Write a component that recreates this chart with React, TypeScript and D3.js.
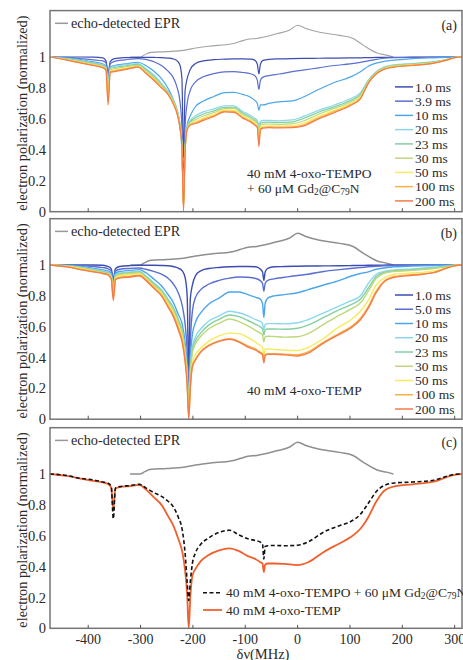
import React from "react";
import * as d3 from "d3";

// ---------- data ----------
const XA = [-473, -441, -415, -390, -372, -366, -362, -358, -350, -330, -305, -290, -275, -260, -248, -238, -230, -225, -221, -218, -215, -211, -205, -195, -180, -160, -140, -122, -105, -90, -82, -77, -74, -71, -66, -55, -35, -10, 10, 40, 70, 100, 120, 135, 150, 165, 185, 220, 260, 285, 300, 314];

const aMs1 = [1.0, 1.0, 1.0, 0.999, 0.995, 0.975, 0.89, 0.97, 0.99, 0.996, 0.998, 0.998, 0.997, 0.996, 0.993, 0.988, 0.975, 0.95, 0.86, 0.35, 0.78, 0.86, 0.92, 0.958, 0.975, 0.983, 0.986, 0.988, 0.988, 0.986, 0.98, 0.955, 0.89, 0.955, 0.978, 0.985, 0.988, 0.99, 0.991, 0.992, 0.993, 0.994, 0.995, 0.996, 0.997, 0.998, 0.998, 0.999, 1.0, 1.0, 1.0, 1.0];
const aMs39 = [1.0, 0.998, 0.99, 0.982, 0.975, 0.962, 0.875, 0.955, 0.972, 0.982, 0.99, 0.985, 0.97, 0.945, 0.91, 0.87, 0.8, 0.72, 0.55, 0.2, 0.55, 0.7, 0.785, 0.84, 0.872, 0.893, 0.904, 0.905, 0.9, 0.892, 0.88, 0.85, 0.79, 0.85, 0.87, 0.88, 0.89, 0.905, 0.915, 0.93, 0.945, 0.955, 0.965, 0.975, 0.985, 0.992, 0.996, 0.998, 0.999, 1.0, 1.0, 1.0];
const aMs10 = [1.0, 0.994, 0.984, 0.968, 0.955, 0.94, 0.86, 0.935, 0.945, 0.955, 0.966, 0.945, 0.91, 0.86, 0.8, 0.73, 0.64, 0.55, 0.4, 0.12, 0.42, 0.56, 0.62, 0.68, 0.715, 0.745, 0.77, 0.772, 0.758, 0.74, 0.72, 0.7, 0.655, 0.69, 0.69, 0.7, 0.71, 0.716, 0.74, 0.79, 0.835, 0.87, 0.905, 0.94, 0.96, 0.972, 0.98, 0.99, 0.995, 0.998, 1.0, 1.0];
const aMs20 = [1.0, 0.99, 0.978, 0.962, 0.95, 0.935, 0.84, 0.93, 0.94, 0.95, 0.958, 0.925, 0.885, 0.83, 0.78, 0.73, 0.66, 0.58, 0.42, 0.06, 0.4, 0.55, 0.59, 0.62, 0.645, 0.665, 0.685, 0.685, 0.648, 0.622, 0.605, 0.59, 0.56, 0.585, 0.59, 0.59, 0.588, 0.593, 0.615, 0.655, 0.69, 0.73, 0.77, 0.85, 0.905, 0.935, 0.95, 0.958, 0.97, 0.985, 0.998, 1.0];
const aMs23 = [1.0, 0.988, 0.975, 0.958, 0.945, 0.93, 0.8, 0.925, 0.932, 0.942, 0.952, 0.918, 0.877, 0.822, 0.775, 0.722, 0.652, 0.572, 0.42, 0.05, 0.395, 0.545, 0.582, 0.607, 0.632, 0.652, 0.675, 0.676, 0.638, 0.612, 0.595, 0.58, 0.53, 0.572, 0.578, 0.579, 0.577, 0.581, 0.602, 0.643, 0.678, 0.718, 0.76, 0.845, 0.902, 0.932, 0.947, 0.955, 0.968, 0.984, 0.998, 1.0];
const aMs30 = [1.0, 0.986, 0.971, 0.954, 0.94, 0.925, 0.76, 0.918, 0.924, 0.935, 0.946, 0.91, 0.868, 0.815, 0.77, 0.715, 0.645, 0.565, 0.42, 0.04, 0.39, 0.54, 0.574, 0.595, 0.619, 0.641, 0.666, 0.667, 0.628, 0.602, 0.585, 0.57, 0.5, 0.56, 0.566, 0.567, 0.565, 0.569, 0.585, 0.63, 0.667, 0.708, 0.75, 0.84, 0.898, 0.928, 0.944, 0.952, 0.966, 0.983, 0.997, 1.0];
const aMs50 = [1.0, 0.984, 0.967, 0.95, 0.936, 0.92, 0.73, 0.91, 0.915, 0.928, 0.94, 0.903, 0.86, 0.808, 0.765, 0.708, 0.638, 0.558, 0.42, 0.03, 0.385, 0.535, 0.567, 0.583, 0.606, 0.63, 0.657, 0.656, 0.617, 0.592, 0.574, 0.558, 0.47, 0.547, 0.554, 0.555, 0.554, 0.557, 0.57, 0.617, 0.655, 0.697, 0.74, 0.836, 0.894, 0.924, 0.94, 0.949, 0.963, 0.982, 0.997, 1.0];
const aMs100 = [1.0, 0.982, 0.964, 0.947, 0.933, 0.917, 0.71, 0.905, 0.91, 0.922, 0.937, 0.898, 0.855, 0.803, 0.762, 0.703, 0.633, 0.553, 0.42, 0.02, 0.382, 0.532, 0.562, 0.575, 0.597, 0.621, 0.65, 0.648, 0.61, 0.585, 0.566, 0.55, 0.44, 0.537, 0.546, 0.548, 0.547, 0.549, 0.56, 0.607, 0.647, 0.69, 0.734, 0.833, 0.892, 0.922, 0.937, 0.947, 0.961, 0.981, 0.996, 1.0];
const aMs200 = [1.0, 0.98, 0.962, 0.945, 0.93, 0.915, 0.69, 0.9, 0.905, 0.918, 0.935, 0.895, 0.85, 0.8, 0.76, 0.7, 0.63, 0.55, 0.42, 0.0, 0.38, 0.53, 0.56, 0.57, 0.59, 0.615, 0.645, 0.642, 0.605, 0.58, 0.56, 0.545, 0.42, 0.53, 0.54, 0.543, 0.542, 0.543, 0.553, 0.6, 0.64, 0.685, 0.73, 0.83, 0.89, 0.92, 0.935, 0.945, 0.96, 0.98, 0.996, 1.0];

const XB = [-473, -441, -415, -390, -372, -362, -356, -352, -348, -340, -320, -302, -290, -275, -260, -248, -238, -228, -220, -215, -211, -208, -205, -201, -195, -185, -170, -150, -130, -112, -95, -80, -72, -67, -64.5, -62, -57, -45, -25, 0, 20, 50, 80, 100, 120, 135, 150, 165, 185, 220, 260, 285, 300, 314];

const bMs1 = [1, 1, 1, 1, 0.998, 0.99, 0.975, 0.905, 0.975, 0.99, 0.996, 0.998, 0.998, 0.998, 0.997, 0.995, 0.99, 0.98, 0.96, 0.92, 0.8, 0.3, 0.78, 0.87, 0.93, 0.962, 0.977, 0.984, 0.988, 0.99, 0.99, 0.988, 0.975, 0.955, 0.9, 0.955, 0.978, 0.988, 0.99, 0.992, 0.993, 0.994, 0.995, 0.996, 0.997, 0.998, 0.998, 0.999, 1, 1, 1, 1, 1, 1];
const bMs5 = [1, 0.999, 0.996, 0.99, 0.983, 0.975, 0.96, 0.89, 0.96, 0.972, 0.978, 0.98, 0.972, 0.958, 0.94, 0.915, 0.88, 0.82, 0.73, 0.62, 0.45, 0.2, 0.5, 0.7, 0.79, 0.84, 0.875, 0.9, 0.915, 0.922, 0.92, 0.912, 0.9, 0.88, 0.83, 0.88, 0.9, 0.91, 0.92, 0.932, 0.94, 0.958, 0.97, 0.977, 0.983, 0.988, 0.992, 0.995, 0.997, 0.998, 0.999, 1, 1, 1];
const bMs10 = [1, 0.997, 0.99, 0.978, 0.968, 0.96, 0.945, 0.87, 0.945, 0.958, 0.965, 0.97, 0.95, 0.91, 0.865, 0.81, 0.76, 0.68, 0.61, 0.5, 0.34, 0.1, 0.38, 0.55, 0.63, 0.69, 0.745, 0.785, 0.825, 0.825, 0.808, 0.79, 0.78, 0.75, 0.66, 0.75, 0.785, 0.8, 0.808, 0.82, 0.84, 0.87, 0.9, 0.925, 0.945, 0.955, 0.972, 0.98, 0.988, 0.993, 0.997, 0.999, 1, 1];
const bMs20 = [1, 0.995, 0.986, 0.972, 0.96, 0.952, 0.935, 0.86, 0.935, 0.948, 0.955, 0.96, 0.93, 0.885, 0.84, 0.782, 0.73, 0.65, 0.57, 0.45, 0.3, 0.08, 0.33, 0.47, 0.535, 0.585, 0.635, 0.67, 0.7, 0.69, 0.67, 0.645, 0.635, 0.62, 0.58, 0.615, 0.62, 0.62, 0.618, 0.625, 0.645, 0.69, 0.735, 0.765, 0.8, 0.88, 0.94, 0.958, 0.968, 0.975, 0.985, 0.993, 0.999, 1];
const bMs23 = [1, 0.994, 0.984, 0.968, 0.956, 0.947, 0.93, 0.84, 0.93, 0.942, 0.95, 0.955, 0.925, 0.878, 0.832, 0.774, 0.72, 0.64, 0.56, 0.44, 0.29, 0.07, 0.31, 0.45, 0.51, 0.56, 0.61, 0.648, 0.676, 0.665, 0.64, 0.615, 0.6, 0.585, 0.545, 0.58, 0.585, 0.585, 0.583, 0.59, 0.61, 0.66, 0.71, 0.74, 0.78, 0.85, 0.925, 0.952, 0.963, 0.97, 0.981, 0.991, 0.999, 1];
const bMs30 = [1, 0.993, 0.982, 0.965, 0.952, 0.943, 0.925, 0.83, 0.925, 0.937, 0.945, 0.95, 0.92, 0.87, 0.825, 0.765, 0.712, 0.63, 0.55, 0.43, 0.28, 0.06, 0.29, 0.43, 0.49, 0.538, 0.585, 0.622, 0.65, 0.633, 0.605, 0.575, 0.56, 0.545, 0.5, 0.535, 0.538, 0.536, 0.532, 0.535, 0.555, 0.615, 0.675, 0.71, 0.755, 0.83, 0.912, 0.945, 0.958, 0.965, 0.977, 0.989, 0.998, 1];
const bMs50 = [1, 0.99, 0.978, 0.96, 0.946, 0.938, 0.918, 0.8, 0.918, 0.93, 0.938, 0.942, 0.912, 0.862, 0.815, 0.75, 0.695, 0.61, 0.525, 0.41, 0.26, 0.04, 0.22, 0.37, 0.42, 0.46, 0.505, 0.54, 0.558, 0.555, 0.53, 0.5, 0.478, 0.465, 0.41, 0.455, 0.455, 0.452, 0.448, 0.445, 0.465, 0.525, 0.6, 0.64, 0.7, 0.77, 0.87, 0.915, 0.94, 0.948, 0.962, 0.98, 0.996, 1];
const bMs100 = [1, 0.989, 0.972, 0.958, 0.946, 0.936, 0.912, 0.79, 0.908, 0.92, 0.927, 0.934, 0.905, 0.855, 0.805, 0.738, 0.68, 0.595, 0.505, 0.39, 0.235, 0.02, 0.21, 0.345, 0.39, 0.44, 0.48, 0.508, 0.522, 0.505, 0.475, 0.455, 0.437, 0.425, 0.375, 0.42, 0.425, 0.425, 0.422, 0.418, 0.437, 0.5, 0.557, 0.595, 0.655, 0.73, 0.83, 0.895, 0.925, 0.937, 0.952, 0.982, 0.996, 1];
const bMs200 = [1, 0.988, 0.97, 0.955, 0.945, 0.935, 0.91, 0.77, 0.905, 0.915, 0.922, 0.93, 0.9, 0.85, 0.8, 0.73, 0.67, 0.58, 0.49, 0.375, 0.22, 0.0, 0.2, 0.34, 0.385, 0.435, 0.475, 0.505, 0.518, 0.5, 0.468, 0.448, 0.43, 0.418, 0.365, 0.412, 0.42, 0.42, 0.417, 0.41, 0.428, 0.495, 0.55, 0.588, 0.645, 0.72, 0.82, 0.89, 0.92, 0.933, 0.95, 0.98, 0.995, 1];

const cTempoGd = [1, 0.99, 0.972, 0.962, 0.948, 0.94, 0.92, 0.71, 0.91, 0.918, 0.925, 0.933, 0.91, 0.88, 0.855, 0.825, 0.79, 0.72, 0.63, 0.49, 0.3, 0.18, 0.3, 0.42, 0.49, 0.545, 0.585, 0.622, 0.635, 0.605, 0.58, 0.568, 0.56, 0.545, 0.45, 0.53, 0.535, 0.537, 0.535, 0.538, 0.56, 0.624, 0.665, 0.689, 0.739, 0.81, 0.885, 0.925, 0.942, 0.948, 0.96, 0.985, 0.998, 1];
const cTemp = bMs200;

const EPR_X = [-320, -300, -292, -280, -250, -218, -195, -170, -125, -110, -95, -78, -40, -15, 0, 17, 42, 80, 106, 126, 152, 170, 183];
const EPR_Y = [1.0, 1.0, 1.015, 1.03, 1.035, 1.043, 1.058, 1.07, 1.086, 1.1, 1.115, 1.12, 1.15, 1.175, 1.205, 1.183, 1.16, 1.14, 1.12, 1.075, 1.026, 1.012, 1.0];

const LABELS_A = ["1.0 ms", "3.9 ms", "10 ms", "20 ms", "23 ms", "30 ms", "50 ms", "100 ms", "200 ms"];
const LABELS_B = ["1.0 ms", "5.0 ms", "10 ms", "20 ms", "23 ms", "30 ms", "50 ms", "100 ms", "200 ms"];
const COLORS = ["#3d4db3", "#5a6fcf", "#4da6ea", "#8bd8ee", "#86cfa0", "#bcd97a", "#f6ea5e", "#f8b143", "#f47c48"];

const X_TICKS = [-400, -300, -200, -100, 0, 100, 200, 300];
const Y_TICKS = [0, 0.2, 0.4, 0.6, 0.8, 1];

// ---------- layout ----------
const W = 463;
const H = 660;
const L = 50;
const R = 462;
const PANELS = [
  { top: 10.6, bottom: 211.7, tag: "(a)" },
  { top: 218.7, bottom: 419.2, tag: "(b)" },
  { top: 427.7, bottom: 628.3, tag: "(c)" },
];
const FONT = "'Liberation Serif', 'DejaVu Serif', serif";
const TXT = "#2a2a2a";

const x = d3.scaleLinear().domain([-473, 314]).range([L, R]);

function makeLine(xs: number[], y: d3.ScaleLinear<number, number>) {
  return d3
    .line<number>()
    .x((_, i) => x(xs[i]))
    .y((d) => y(d))
    .curve(d3.curveMonotoneX);
}

function Sub({ t }: { t: string }) {
  return (
    <tspan fontSize={9.5} dy={1.5}>
      {t}
    </tspan>
  );
}

export default function App() {
  const seriesA = [aMs1, aMs39, aMs10, aMs20, aMs23, aMs30, aMs50, aMs100, aMs200];
  const seriesB = [bMs1, bMs5, bMs10, bMs20, bMs23, bMs30, bMs50, bMs100, bMs200];

  return (
    <svg
      width={W}
      height={H}
      style={{ position: "absolute", left: 0, top: 0, background: "#fff" }}
      fontFamily={FONT}
    >
      <defs>
        {PANELS.map((p, k) => (
          <clipPath id={`clip${k}`} key={k}>
            <rect x={L} y={p.top} width={R - L} height={p.bottom - p.top} />
          </clipPath>
        ))}
      </defs>
      {PANELS.map((p, k) => {
        const y = d3.scaleLinear().domain([0, 1.3]).range([p.bottom, p.top]);
        const eprLine = d3
          .line<number>()
          .x((_, i) => x(EPR_X[i]))
          .y((d) => y(d))
          .curve(d3.curveMonotoneX);
        const mid = (p.top + p.bottom) / 2;
        return (
          <g key={k}>
            <g clipPath={`url(#clip${k})`}>
              <path d={eprLine(EPR_Y) || ""} fill="none" stroke={k === 0 ? "#a3a3a3" : "#8f8f8f"} strokeWidth={k === 0 ? 1.1 : 1.5} />
              {k === 0 &&
                seriesA.map((s, i) => (
                  <path key={i} d={makeLine(XA, y)(s) || ""} fill="none" stroke={COLORS[i]} strokeWidth={1.2} />
                ))}
              {k === 1 &&
                seriesB.map((s, i) => (
                  <path key={i} d={makeLine(XB, y)(s) || ""} fill="none" stroke={COLORS[i]} strokeWidth={1.4} />
                ))}
              {k === 2 && (
                <>
                  <path d={makeLine(XB, y)(cTemp) || ""} fill="none" stroke="#f0602f" strokeWidth={1.8} />
                  <path d={makeLine(XB, y)(cTempoGd) || ""} fill="none" stroke="#111" strokeWidth={1.6} strokeDasharray="4,2.5" />
                </>
              )}
            </g>
            <rect x={L} y={p.top} width={R - L} height={p.bottom - p.top} fill="none" stroke="#757575" strokeWidth={1.5} />
            {X_TICKS.map((t) => (
              <line key={t} x1={x(t)} x2={x(t)} y1={p.bottom} y2={p.bottom - 3.5} stroke="#555" strokeWidth={1} />
            ))}
            {Y_TICKS.map((t) => (
              <text key={t} x={46} y={y(t)} dy="0.35em" textAnchor="end" fontSize={14.5} fill={TXT}>
                {String(t)}
              </text>
            ))}
            <text
              transform={`translate(22,${mid + 2}) rotate(-90)`}
              textAnchor="middle"
              dy="0.35em"
              fontSize={14.3}
              fill={TXT}
            >
              electron polarization (normalized)
            </text>
            <line x1={55} x2={68} y1={p.top + 12.7} y2={p.top + 12.7} stroke="#999" strokeWidth={1.5} />
            <text x={71} y={p.top + 12.7} dy="0.35em" fontSize={14.3} fill={TXT}>
              echo-detected EPR
            </text>
            <text x={457} y={p.top + 14.5} dy="0.35em" textAnchor="end" fontSize={14} fill={TXT}>
              {p.tag}
            </text>
            {k < 2 &&
              (k === 0 ? LABELS_A : LABELS_B).map((lab, i) => {
                const yy = p.top + 76.3 + i * 14.25;
                return (
                  <g key={lab}>
                    <line x1={395} x2={413} y1={yy} y2={yy} stroke={COLORS[i]} strokeWidth={1.5} />
                    <text x={415} y={yy} dy="0.35em" fontSize={13.5} fill={TXT}>
                      {lab}
                    </text>
                  </g>
                );
              })}
          </g>
        );
      })}
      <text x={247} y={173} dy="0.35em" fontSize={13.5} fill={TXT}>
        40 mM 4-oxo-TEMPO
      </text>
      <text x={247} y={188.5} dy="0.35em" fontSize={13.5} fill={TXT}>
        + 60 μM Gd<Sub t="2" />
        <tspan dy={-1.5}>@C</tspan>
        <Sub t="79" />
        <tspan dy={-1.5}>N</tspan>
      </text>
      <text x={247} y={390.5} dy="0.35em" fontSize={13.5} fill={TXT}>
        40 mM 4-oxo-TEMP
      </text>
      <line x1={203} x2={222} y1={592.7} y2={592.7} stroke="#111" strokeWidth={1.6} strokeDasharray="4,2.5" />
      <text x={226} y={592.7} dy="0.35em" fontSize={13.5} fill={TXT}>
        40 mM 4-oxo-TEMPO + 60 μM Gd<Sub t="2" />
        <tspan dy={-1.5}>@C</tspan>
        <Sub t="79" />
        <tspan dy={-1.5}>N</tspan>
      </text>
      <line x1={203} x2={222} y1={610} y2={610} stroke="#f0602f" strokeWidth={1.8} />
      <text x={226} y={610} dy="0.35em" fontSize={13.5} fill={TXT}>
        40 mM 4-oxo-TEMP
      </text>
      {X_TICKS.map((t) => (
        <text key={t} x={x(t)} y={643.5} textAnchor="middle" fontSize={14} fill={TXT}>
          {String(t)}
        </text>
      ))}
      <text x={263} y={658.5} textAnchor="middle" fontSize={14.5} fill={TXT}>
        δν(MHz)
      </text>
    </svg>
  );
}
